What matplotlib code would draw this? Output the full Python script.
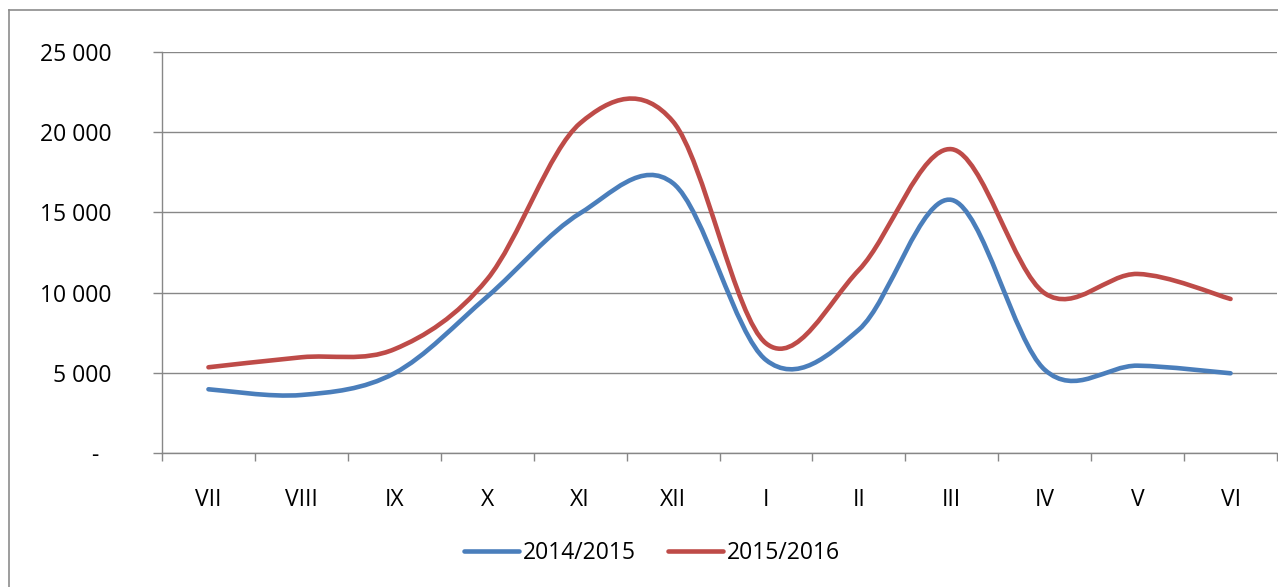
import matplotlib
matplotlib.use("Agg")
import matplotlib.pyplot as plt
import numpy as np
from matplotlib.lines import Line2D
from matplotlib.patches import PathPatch
from matplotlib.path import Path
from matplotlib.ticker import FixedLocator, FuncFormatter


MONTHS = ["VII", "VIII", "IX", "X", "XI", "XII", "I", "II", "III", "IV", "V", "VI"]
SEASON_2014 = [3985, 3630, 4980, 9750, 14944, 16812, 5810, 7700, 15772, 5200, 5455, 4981]
SEASON_2015 = [5355, 5978, 6476, 10834, 20548, 20648, 6848, 11413, 18930, 9963, 11165, 9608]

BLUE = "#4A7EBB"
RED = "#BE4B48"
GRID = "#878787"
FONT = "Open Sans"
FS = 16.5
LW = 3.3


def smooth_path(xs, ys):
    # excel-like smoothing: catmull-rom segments as cubic beziers
    pts = np.column_stack([xs, ys]).astype(float)
    n = len(pts)
    verts = [pts[0]]
    codes = [Path.MOVETO]
    for i in range(n - 1):
        p_prev = pts[i - 1] if i > 0 else pts[i]
        p_next = pts[i + 2] if i + 2 < n else pts[i + 1]
        c1 = pts[i] + (pts[i + 1] - p_prev) / 6.0
        c2 = pts[i + 1] - (p_next - pts[i]) / 6.0
        verts += [c1, c2, pts[i + 1]]
        codes += [Path.CURVE4] * 3
    return Path(verts, codes)


def y_label(v, _pos):
    if v == 0:
        return "-  "
    return f"{int(v):,}".replace(",", " ")


fig = plt.figure(figsize=(12.78, 5.87), dpi=100)
ax = fig.add_axes([162 / 1278, 1 - 453.3 / 587, 1115 / 1278, (453.3 - 51.7) / 587])

x = np.arange(len(MONTHS))
for values, color in [(SEASON_2014, BLUE), (SEASON_2015, RED)]:
    patch = PathPatch(smooth_path(x, values), facecolor="none", edgecolor=color,
                      lw=LW, capstyle="round", joinstyle="round", zorder=3)
    ax.add_patch(patch)

ax.set_xlim(-0.5, len(MONTHS) - 0.5)
ax.set_ylim(0, 25000)

ax.set_yticks(np.arange(0, 25001, 5000))
ax.yaxis.set_major_formatter(FuncFormatter(y_label))
ax.grid(axis="y", color=GRID, lw=1.0)
ax.set_axisbelow(True)

ax.set_xticks(x)
ax.set_xticklabels(MONTHS)
ax.xaxis.set_minor_locator(FixedLocator(np.arange(-0.5, len(MONTHS), 1.0)))
ax.tick_params(axis="x", which="major", length=0, pad=25)
ax.tick_params(axis="x", which="minor", length=6, width=1.0, color=GRID, direction="out")
ax.tick_params(axis="y", length=6.5, width=1.0, color=GRID, pad=30)

for lab in ax.get_xticklabels() + ax.get_yticklabels():
    lab.set_fontfamily(FONT)
    lab.set_fontsize(FS)
    lab.set_color("black")

for side in ["top", "right"]:
    ax.spines[side].set_visible(False)
for side in ["left", "bottom"]:
    ax.spines[side].set_color(GRID)
    ax.spines[side].set_linewidth(1.0)

handles = [
    Line2D([], [], color=BLUE, lw=LW, solid_capstyle="round"),
    Line2D([], [], color=RED, lw=LW, solid_capstyle="round"),
]
fig.legend(handles, ["2014/2015", "2015/2016"], loc="center",
           bbox_to_anchor=(652 / 1278, 1 - 553 / 587), ncol=2, frameon=False,
           handlelength=2.4, handletextpad=0.17, columnspacing=1.4,
           prop={"family": FONT, "size": FS})

# outer chart border (only left and top edges are visible in the crop)
fig.add_artist(Line2D([9 / 1278, 9 / 1278], [0, 1 - 10 / 587], color="#8C8C8C", lw=1.2,
                      transform=fig.transFigure))
fig.add_artist(Line2D([9 / 1278, 1], [1 - 10 / 587, 1 - 10 / 587], color="#8C8C8C", lw=1.2,
                      transform=fig.transFigure))

fig.savefig("out.png", dpi=100)
